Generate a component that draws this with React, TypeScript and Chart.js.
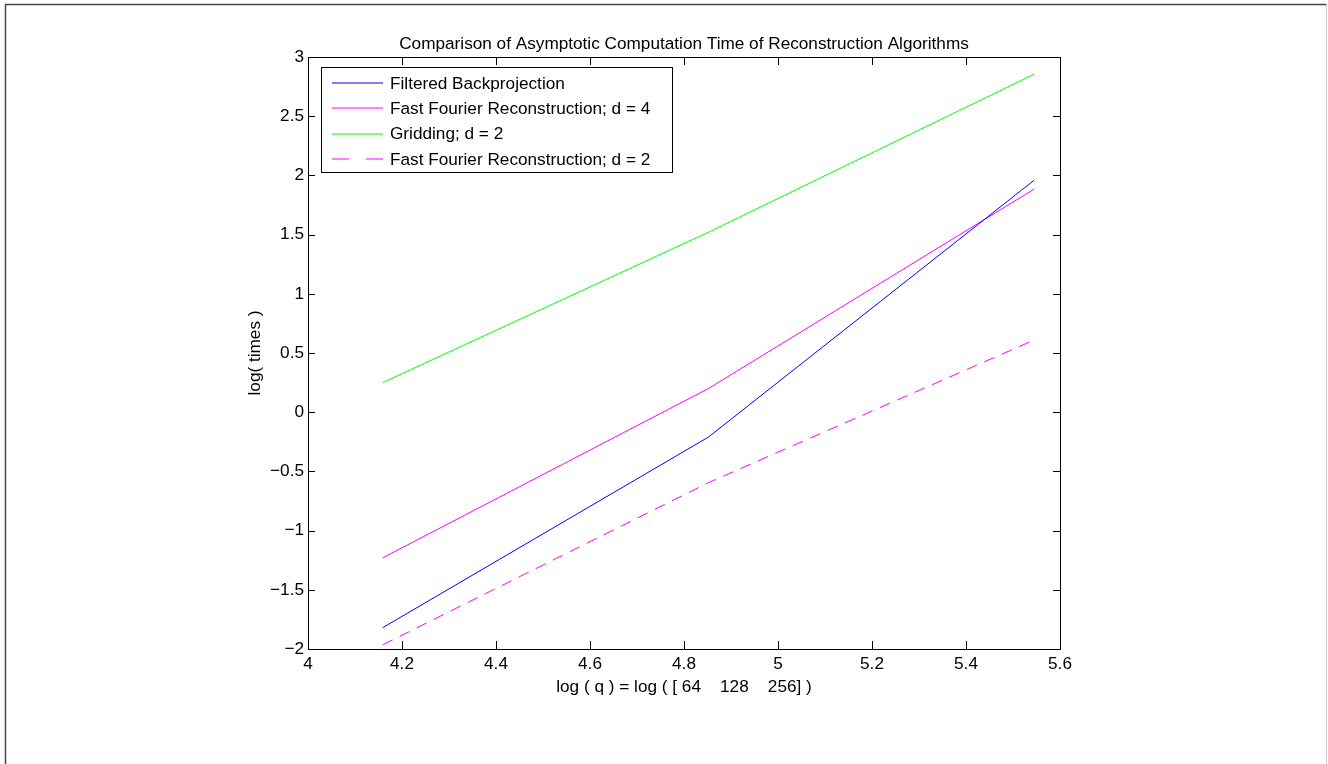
import React, { useEffect, useRef } from "react";
import { Chart, registerables } from "chart.js";

Chart.register(...registerables);

const qValues = [64, 128, 256];
const xValues = qValues.map((q) => Math.log(q));
const fbp = [-1.82, -0.21, 1.96];
const ffr4 = [-1.23, 0.2, 1.885];
const gridding = [0.25, 1.52, 2.855];
const ffr2 = [-1.965, -0.595, 0.61];

const seriesLabels = [
  "Filtered Backprojection",
  "Fast Fourier Reconstruction; d = 4",
  "Gridding; d = 2",
  "Fast Fourier Reconstruction; d = 2",
];
const seriesColors = ["#0000ff", "#ff00ff", "#00ff00", "#ff00ff"];
const seriesDash: number[][] = [[], [], [], [11, 8]];
const legendDash: number[][] = [[], [], [], [17, 17]];

const xTicks = [4, 4.2, 4.4, 4.6, 4.8, 5, 5.2, 5.4, 5.6];
const yTicks = [-2, -1.5, -1, -0.5, 0, 0.5, 1, 1.5, 2, 2.5, 3];

const titleText = "Comparison of Asymptotic Computation Time of Reconstruction Algorithms";
const xLabel = "log ( q ) = log ( [ 64    128    256] )";
const yLabel = "log( times )";

const FONT = '"Liberation Sans", Arial, Helvetica, sans-serif';
const FS = 17.2;

const fmt = (v: number) => {
  const s = String(Math.round(v * 10) / 10);
  return s.replace("-", "\u2212");
};

const decorPlugin = {
  id: "decor",
  afterDraw(chart: any) {
    const ctx = chart.ctx as CanvasRenderingContext2D;
    const ca = chart.chartArea;
    const xs = chart.scales.x;
    const ys = chart.scales.y;
    ctx.save();
    // outer frame
    ctx.lineWidth = 1.5;
    ctx.strokeStyle = "#444";
    ctx.beginPath();
    ctx.moveTo(5.5, chart.height + 2);
    ctx.lineTo(5.5, 4.5);
    ctx.lineTo(1326.5, 4.5);
    ctx.stroke();
    ctx.strokeStyle = "#cfcfcf";
    ctx.lineWidth = 1;
    ctx.beginPath();
    ctx.moveTo(1326.5, 4.5);
    ctx.lineTo(1326.5, chart.height + 2);
    ctx.stroke();

    // plot box
    ctx.strokeStyle = "#000";
    ctx.lineWidth = 1;
    ctx.strokeRect(Math.round(ca.left) + 0.5, Math.round(ca.top) + 0.5, Math.round(ca.right - ca.left), Math.round(ca.bottom - ca.top));

    // ticks inward on all sides
    ctx.beginPath();
    for (const v of xTicks) {
      const px = Math.round(xs.getPixelForValue(v)) + 0.5;
      ctx.moveTo(px, ca.bottom);
      ctx.lineTo(px, ca.bottom - 8);
      ctx.moveTo(px, ca.top);
      ctx.lineTo(px, ca.top + 8);
    }
    for (const v of yTicks) {
      const py = Math.round(ys.getPixelForValue(v)) + 0.5;
      ctx.moveTo(ca.left, py);
      ctx.lineTo(ca.left + 7, py);
      ctx.moveTo(ca.right, py);
      ctx.lineTo(ca.right - 7, py);
    }
    ctx.stroke();

    // title
    ctx.fillStyle = "#000";
    ctx.font = `${FS}px ${FONT}`;
    ctx.textAlign = "center";
    ctx.textBaseline = "middle";
    const cx = (ca.left + ca.right) / 2;
    ctx.fillText(titleText, cx, 44);
    // x label
    ctx.fillText(xLabel, cx, 687);
    // y label
    ctx.save();
    ctx.translate(255, (ca.top + ca.bottom) / 2);
    ctx.rotate(-Math.PI / 2);
    ctx.fillText(yLabel, 0, 0);
    ctx.restore();

    // legend
    const lx = 321, ly = 67, lw = 351, lh = 105;
    ctx.fillStyle = "#fff";
    ctx.fillRect(lx, ly, lw, lh);
    ctx.strokeStyle = "#000";
    ctx.lineWidth = 1;
    ctx.strokeRect(lx + 0.5, ly + 0.5, lw, lh);
    ctx.textAlign = "left";
    ctx.textBaseline = "middle";
    for (let i = 0; i < seriesLabels.length; i++) {
      const ry = 83 + i * 25.3;
      ctx.strokeStyle = seriesColors[i];
      ctx.setLineDash(legendDash[i]);
      ctx.beginPath();
      ctx.moveTo(332, Math.round(ry));
      ctx.lineTo(383, Math.round(ry));
      ctx.stroke();
      ctx.setLineDash([]);
      ctx.fillStyle = "#000";
      ctx.fillText(seriesLabels[i], 390, ry + 1);
    }
    ctx.restore();
  },
};

export default function App() {
  const ref = useRef<HTMLCanvasElement | null>(null);
  useEffect(() => {
    document.body.style.margin = "0";
    const series = [fbp, ffr4, gridding, ffr2];
    const chart = new Chart(ref.current as HTMLCanvasElement, {
      type: "line",
      data: {
        datasets: series.map((vals, i) => ({
          label: seriesLabels[i],
          data: xValues.map((x, j) => ({ x, y: vals[j] })),
          borderColor: seriesColors[i],
          backgroundColor: seriesColors[i],
          borderDash: seriesDash[i],
          borderWidth: 1,
          pointRadius: 0,
          tension: 0,
          fill: false,
        })),
      },
      options: {
        animation: false,
        responsive: false,
        layout: { padding: { left: 0, top: 57, right: 268, bottom: 0 } },
        plugins: { legend: { display: false }, title: { display: false }, tooltip: { enabled: false } },
        scales: {
          x: {
            type: "linear",
            min: 4,
            max: 5.6,
            afterFit: (s: any) => { s.height = 115; },
            afterBuildTicks: (s: any) => { s.ticks = xTicks.map((v) => ({ value: v })); },
            grid: { display: false, drawTicks: false },
            border: { display: false },
            ticks: {
              padding: 5,
              color: "#000",
              font: { family: FONT, size: FS },
              maxRotation: 0,
              autoSkip: false,
              callback: (v: any) => fmt(Number(v)),
            },
          },
          y: {
            type: "linear",
            min: -2,
            max: 3,
            afterFit: (s: any) => { s.width = 308; },
            afterBuildTicks: (s: any) => { s.ticks = yTicks.map((v) => ({ value: v })); },
            grid: { display: false, drawTicks: false },
            border: { display: false },
            ticks: {
              padding: 4,
              color: "#000",
              font: { family: FONT, size: FS },
              autoSkip: false,
              callback: (v: any) => fmt(Number(v)),
            },
          },
        },
      },
      plugins: [decorPlugin],
    });
    return () => chart.destroy();
  }, []);
  return (
    <div style={{ position: "absolute", left: 0, top: 0, width: 1328, height: 764, background: "#fff" }}>
      <canvas ref={ref} width={1328} height={764} style={{ display: "block" }} />
    </div>
  );
}
